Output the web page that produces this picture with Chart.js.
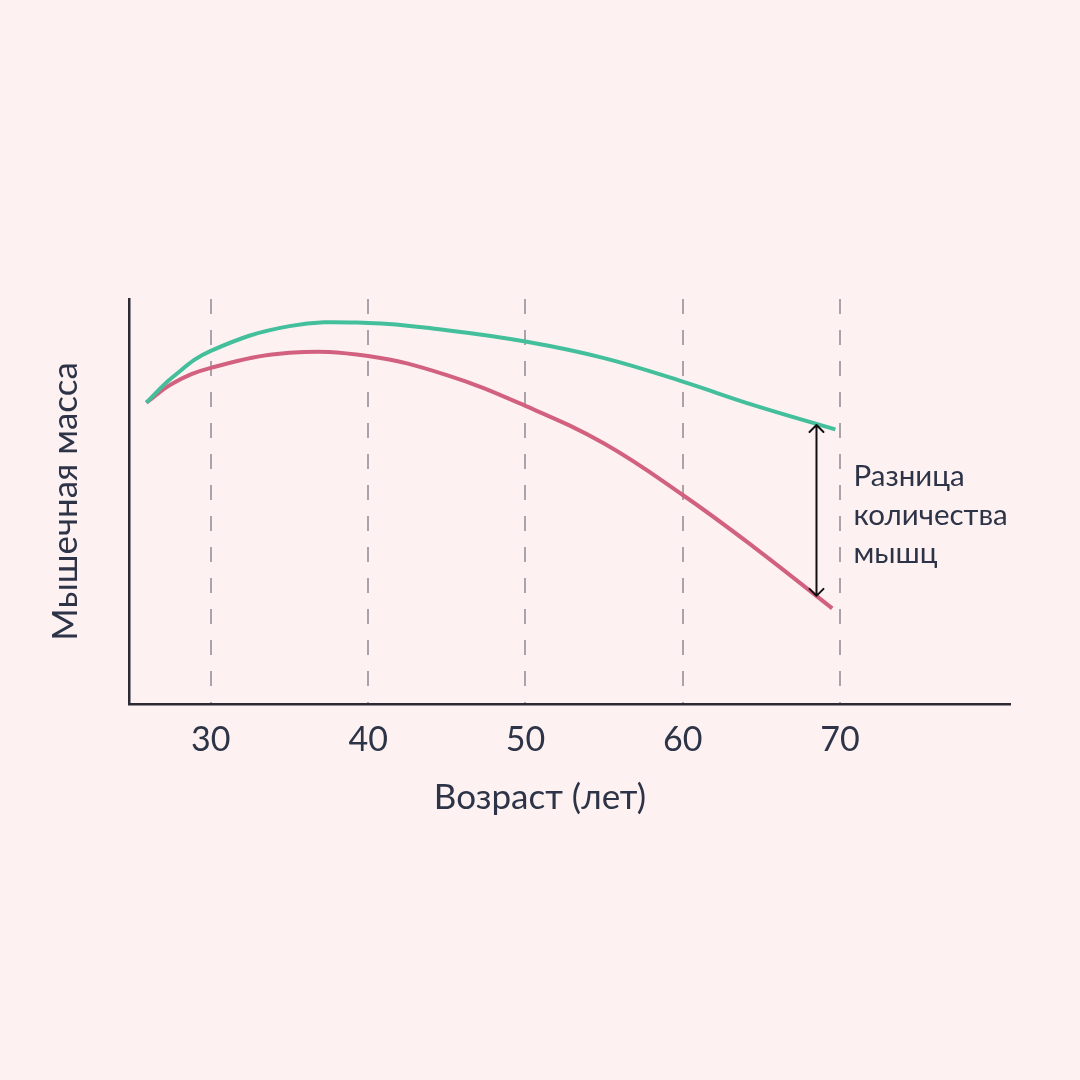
<!DOCTYPE html>
<html>
<head>
<meta charset="utf-8">
<script src="https://cdn.jsdelivr.net/npm/chart.js@4/dist/chart.umd.min.js"></script>
<style>
  html, body { margin: 0; padding: 0; background: #fdf2f1; }
  #wrap { width: 1080px; height: 1080px; }
</style>
</head>
<body>
<div id="wrap"><canvas id="myChart" width="1080" height="1080"></canvas></div>
<script>
const ages = [25.9, 27.6, 30, 35, 40, 45, 50, 55, 60, 64.5];
const greenMass = [74.4, 80.8, 87.2, 93.3, 94.1, 92.3, 89.5, 85.4, 79.6, 73.8];
const redMass = [74.4, 79.2, 83.0, 86.7, 85.9, 81.2, 73.6, 64.3, 51.6, 38.8];
// the two curves stop at slightly different ages
const greenEnd = { x: 69.7, y: 67.8 };
const redEnd = { x: 69.5, y: 23.6 };

const xTicks = [30, 40, 50, 60, 70];

// the double arrow showing the gap
const gapAge = 68.5;
const gapTop = 68.9;
const gapBottom = 26.7;
const gapLabel = ['Разница', 'количества', 'мышц'];
const xTitle = 'Возраст (лет)';

const textColor = '#2e3448';
const fontFamily = 'Lato, "Noto Sans", sans-serif';

function toPoints(xs, ys, last) {
  return xs.map((x, i) => ({ x: x, y: ys[i] })).concat([last]);
}

const gapPlugin = {
  id: 'gapArrow',
  afterDatasetsDraw(chart) {
    const ctx = chart.ctx;
    const x = chart.scales.x.getPixelForValue(gapAge);
    const y1 = chart.scales.y.getPixelForValue(gapTop);
    const y2 = chart.scales.y.getPixelForValue(gapBottom);
    const head = 7;

    ctx.save();
    ctx.strokeStyle = '#111111';
    ctx.lineWidth = 2;
    ctx.lineCap = 'round';
    ctx.lineJoin = 'round';
    ctx.beginPath();
    ctx.moveTo(x, y1);
    ctx.lineTo(x, y2);
    // arrow heads
    ctx.moveTo(x - head, y1 + head);
    ctx.lineTo(x, y1);
    ctx.lineTo(x + head, y1 + head);
    ctx.moveTo(x - head, y2 - head);
    ctx.lineTo(x, y2);
    ctx.lineTo(x + head, y2 - head);
    ctx.stroke();

    // label next to it
    ctx.fillStyle = textColor;
    ctx.font = '29.5px ' + fontFamily;
    ctx.textAlign = 'left';
    ctx.textBaseline = 'middle';
    const mid = (y1 + y2) / 2 + 5;
    const lh = 38.5;
    gapLabel.forEach((t, i) => {
      ctx.fillText(t, x + 37, mid + (i - 1) * lh);
    });

    // x axis title, centred on the page rather than on the axis
    ctx.font = '35px ' + fontFamily;
    ctx.textAlign = 'center';
    ctx.fillText(xTitle, chart.width / 2, chart.chartArea.bottom + 94);
    ctx.restore();
  }
};

const data = {
  datasets: [
    {
      label: 'Мужчины',
      data: toPoints(ages, greenMass, greenEnd),
      borderColor: '#43bf9c',
      borderWidth: 4,
      pointRadius: 0,
      tension: 0.4,
      fill: false,
    },
    {
      label: 'Женщины',
      data: toPoints(ages, redMass, redEnd),
      borderColor: '#d2617f',
      borderWidth: 4,
      pointRadius: 0,
      tension: 0.4,
      fill: false,
    }
  ]
};

const config = {
  type: 'line',
  data: data,
  options: {
    responsive: false,
    animation: false,
    layout: {
      padding: { top: 299, right: 70, bottom: 246, left: 0 }
    },
    plugins: {
      legend: { display: false },
      tooltip: { enabled: false },
    },
    scales: {
      x: {
        type: 'linear',
        min: 24.8,
        max: 80.8,
        afterBuildTicks: (scale) => {
          scale.ticks = xTicks.map(v => ({ value: v }));
        },
        afterFit: (scale) => { scale.height = 130; },
        grid: {
          color: '#aaa4aa',
          lineWidth: 2,
          drawTicks: false,
        },
        border: {
          color: '#2b2a35',
          width: 2.5,
          dash: [15, 16],
        },
        ticks: {
          color: textColor,
          padding: 16,
          font: { family: fontFamily, size: 34, lineHeight: 1.2 },
        },
        title: { display: false }
      },
      y: {
        min: 0,
        max: 100,
        afterFit: (scale) => { scale.width = 129; },
        grid: { display: false, drawTicks: false },
        border: { color: '#2b2a35', width: 2.5 },
        ticks: { display: false },
        title: {
          display: true,
          text: 'Мышечная масса',
          color: textColor,
          font: { family: fontFamily, size: 35, lineHeight: 1.2 },
          padding: { top: 45, bottom: 0 },
        }
      }
    }
  },
  plugins: [gapPlugin]
};

const myChart = new Chart(
  document.getElementById('myChart'),
  config
);
</script>
</body>
</html>
